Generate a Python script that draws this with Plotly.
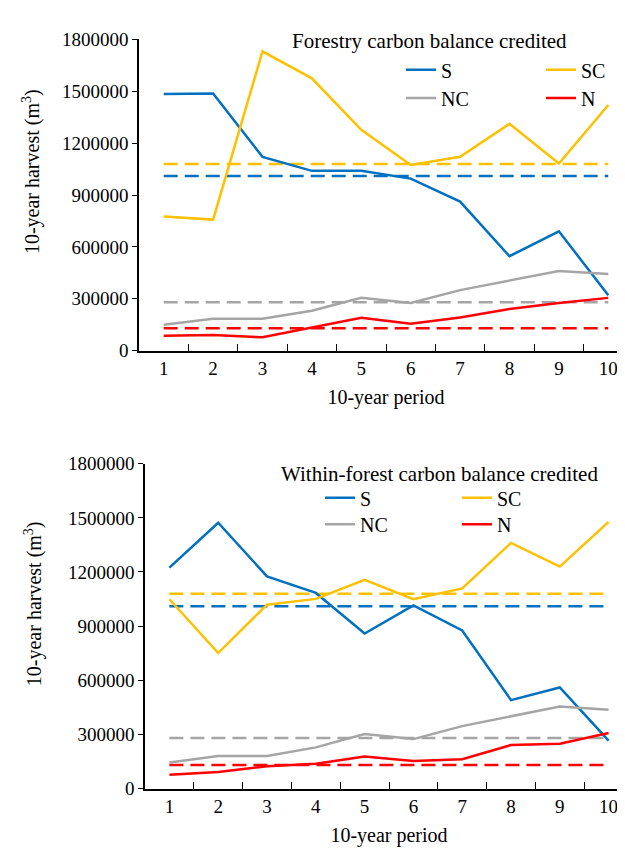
import plotly.graph_objects as go

periods = ["1", "2", "3", "4", "5", "6", "7", "8", "9", "10"]

# Forestry carbon balance credited (top panel)
top_s = [1485000, 1487000, 1121000, 1040000, 1040000, 995000, 862000, 546000, 690000, 320000]
top_sc = [776000, 758000, 1731000, 1575000, 1277000, 1074000, 1121000, 1312000, 1082000, 1421000]
top_nc = [150000, 184000, 184000, 231000, 305000, 276000, 350000, 407000, 461000, 443000]
top_n = [86000, 90000, 77000, 133000, 190000, 156000, 191000, 240000, 276000, 305000]

# Within-forest carbon balance credited (bottom panel)
bot_s = [1224000, 1473000, 1176000, 1084000, 859000, 1015000, 876000, 490000, 560000, 266000]
bot_sc = [1049000, 751000, 1019000, 1051000, 1156000, 1049000, 1109000, 1361000, 1230000, 1478000]
bot_nc = [144000, 180000, 180000, 228000, 302000, 274000, 346000, 401000, 455000, 437000]
bot_n = [76000, 92000, 124000, 137000, 178000, 153000, 162000, 241000, 248000, 308000]

# dashed reference levels
ref_s = 1010000
ref_sc = 1080000
ref_nc = 280000
ref_n = 130000

names = ["S", "SC", "NC", "N"]
colors = {"S": "#0070C0", "SC": "#FFC000", "NC": "#A5A5A5", "N": "#FF0000"}

W, H = 625, 852
FONT = "Liberation Serif, Times New Roman, serif"


def px_x(p):
    return p / W


def px_y(p):
    return 1 - p / H


# where each legend entry's text starts / row centre (pixels)
leg_pos = [
    {"S": (433, 53), "SC": (573, 53), "NC": (433, 82), "N": (573, 82)},
    {"S": (352, 492), "SC": (489, 492), "NC": (352, 519), "N": (489, 519)},
]

fig = go.Figure()
layout_legends = {}

panels = [
    ("x", "y", [top_s, top_sc, top_nc, top_n]),
    ("x2", "y2", [bot_s, bot_sc, bot_nc, bot_n]),
]
refs = [ref_s, ref_sc, ref_nc, ref_n]

k = 0
for p, (xa, ya, series) in enumerate(panels):
    # dashed levels first so the solid lines sit on top
    for nm, r in zip(names, refs):
        fig.add_trace(go.Scatter(x=periods, y=[r] * len(periods), mode="lines",
                                 line=dict(color=colors[nm], width=2.5, dash="14px,7px"),
                                 showlegend=False, hoverinfo="skip",
                                 xaxis=xa, yaxis=ya))
    for nm, vals in zip(names, series):
        k += 1
        leg = "legend" if k == 1 else "legend%d" % k
        fig.add_trace(go.Scatter(x=periods, y=vals, mode="lines", name=nm,
                                 line=dict(color=colors[nm], width=2.5),
                                 legend=leg, xaxis=xa, yaxis=ya))
        tx, ty = leg_pos[p][nm]
        layout_legends[leg] = dict(x=px_x(tx - 40), y=px_y(ty), xanchor="left",
                                   yanchor="middle", font=dict(family=FONT, size=20),
                                   bgcolor="rgba(0,0,0,0)", borderwidth=0)

xcommon = dict(type="category", range=[-0.5, 9.5], tickson="boundaries",
               ticks="inside", ticklen=7, tickcolor="black", showline=True,
               linecolor="black", linewidth=1.5, showgrid=False, zeroline=False,
               tickfont=dict(family=FONT, size=19),
               title=dict(text="10-year period", font=dict(family=FONT, size=20),
                          standoff=12))
ycommon = dict(range=[0, 1800000], dtick=300000, tickformat="d", ticks="outside",
               ticklen=5, tickcolor="black", showline=True, linecolor="black",
               linewidth=1.5, showgrid=False, zeroline=False,
               tickfont=dict(family=FONT, size=19))

ytitle = "10-year harvest (m<sup>3</sup>)"

fig.update_layout(
    width=W, height=H,
    margin=dict(l=0, r=0, t=0, b=0),
    paper_bgcolor="white", plot_bgcolor="white",
    font=dict(family=FONT, color="black"),
    xaxis=dict(xcommon, domain=[px_x(131), 1.0], anchor="y"),
    yaxis=dict(ycommon, domain=[px_y(341), px_y(22)], anchor="x"),
    xaxis2=dict(xcommon, domain=[px_x(137), 1.0], anchor="y2"),
    yaxis2=dict(ycommon, domain=[px_y(790), px_y(457)], anchor="x2"),
    annotations=[
        dict(text="Forestry carbon balance credited", x=px_x(421), y=px_y(24),
             xref="paper", yref="paper", xanchor="center", yanchor="middle",
             showarrow=False, font=dict(family=FONT, size=21)),
        dict(text="Within-forest carbon balance credited", x=px_x(431), y=px_y(468),
             xref="paper", yref="paper", xanchor="center", yanchor="middle",
             showarrow=False, font=dict(family=FONT, size=21)),
        dict(text=ytitle, textangle=-90, x=px_x(23), y=px_y(158),
             xref="paper", yref="paper", xanchor="center", yanchor="middle",
             showarrow=False, font=dict(family=FONT, size=20)),
        dict(text=ytitle, textangle=-90, x=px_x(25), y=px_y(601),
             xref="paper", yref="paper", xanchor="center", yanchor="middle",
             showarrow=False, font=dict(family=FONT, size=20)),
    ],
    **layout_legends,
)

fig.write_html("out.html")
